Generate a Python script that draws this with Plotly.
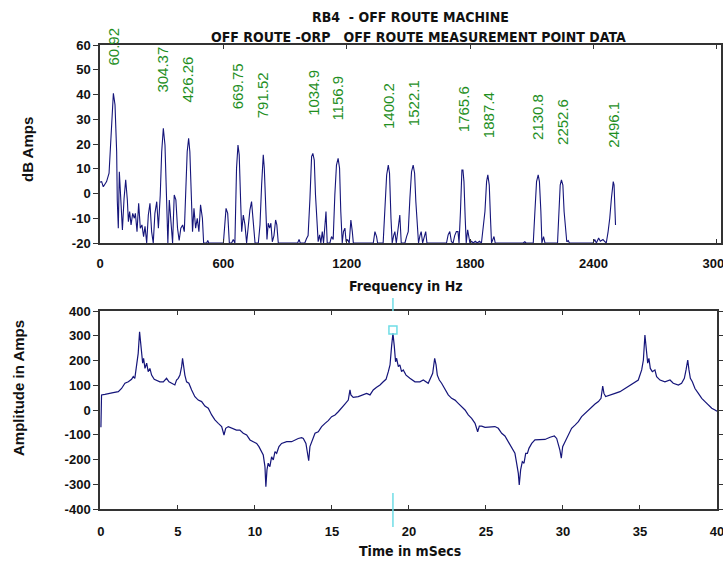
import plotly.graph_objects as go

# ---------------- data ----------------
spec_freq = [0, 8, 16, 32, 44, 53, 65, 73, 81, 84, 89, 94, 100, 109, 117, 125, 133, 138, 144, 151,
             159, 167, 172, 180, 188, 196, 204, 212, 219, 227, 235, 243, 251, 259, 267, 276, 284, 293,
             300, 308, 316, 323, 330, 337, 345, 353, 361, 369, 377, 385, 393, 402, 410, 416, 424, 431,
             437, 444, 450, 457, 465, 473, 481, 489, 498, 504, 519, 524, 529, 600, 605, 613, 621, 629,
             640, 648, 656, 664, 671, 677, 684, 689, 697, 705, 713, 721, 729, 737, 746, 754, 770, 778,
             786, 794, 799, 805, 812, 818, 825, 831, 838, 846, 854, 860, 867, 961, 968, 974, 996, 1004,
             1012, 1021, 1029, 1035, 1042, 1048, 1055, 1061, 1068, 1074, 1081, 1087, 1094, 1099, 1105,
             1118, 1126, 1134, 1142, 1150, 1158, 1165, 1171, 1178, 1184, 1191, 1197, 1204, 1212, 1220,
             1227, 1232, 1329, 1337, 1345, 1350, 1377, 1386, 1394, 1402, 1408, 1415, 1421, 1428, 1434,
             1441, 1447, 1454, 1458, 1465, 1483, 1491, 1499, 1507, 1515, 1523, 1530, 1536, 1543, 1549,
             1556, 1562, 1569, 1577, 1584, 1590, 1685, 1693, 1701, 1709, 1717, 1725, 1733, 1741, 1746,
             1753, 1760, 1765, 1770, 1776, 1781, 1788, 1793, 1799, 1807, 1815, 1825, 1835, 1845, 1855,
             1872, 1880, 1886, 1893, 1899, 1904, 1916, 1922, 2058, 2066, 2072, 2107, 2115, 2123, 2131,
             2137, 2144, 2149, 2157, 2164, 2225, 2231, 2238, 2244, 2251, 2257, 2264, 2270, 2277, 2283,
             2398, 2406, 2414, 2425, 2433, 2446, 2454, 2462, 2471, 2479, 2487, 2496, 2500, 2507]
spec_db = [4.6, 4.8, 2.7, 4.8, 8.2, 21, 40.5, 35.8, 16.9, -2.6, -14, 8.8, -2.6, -14.7, -2, 5.5, -2.6, -11.4, -7.3, -12.7,
           -8, -10, -8, -15.4, -4, -14, -12.7, -17.4, -13.3, -20, -8.7, -4, -15.4, -20, -8, -3.3, -14, -0.6,
           16.9, 26.3, 19.6, -0.6, -20, -2.6, -12.7, -20, -0.6, -2.6, -14, -19, -14, -12.7, -15.4, -0.6, 16.9, 22.3,
           16.9, -0.6, -15.4, -6, -14, -10, -15.4, -4.6, -10, -20, -20, -19, -20, -20, -15.4, -6, -8, -20,
           -20, -18.6, -20, 10.2, 19.6, 15.6, -3.3, -15.4, -8.7, -12.7, -20, -12.7, -6.7, -3.3, -11.4, -20, -20, -12.7,
           3.4, 15.6, 10.2, -7.3, -18.6, -12, -14, -12, -19.5, -17, -10.7, -12.7, -20, -20, -18.6, -20, -20, -18.3,
           -17, -2, 14.9, 16.2, 13.5, -0.6, -12.7, -19.5, -16.7, -20, -15.4, -20, -12.7, -7.3, -20,
           -20, -17.4, -18.6, -0.6, 11.5, 14.2, 10.2, -7.3, -20, -15.4, -14, -19.5, -18.6, -20, -10.7,
           -15.4, -20, -20, -15.4, -17.4, -20, -20, -7.3, 7.5, 11.5, 8.2, -10, -20, -17, -15.4,
           -20, -15.4, -11.4, -8.7, -20, -20, -17.4, -15.4, -2, 8.8, 11.5, 8.2, -3.3, -15.4, -20,
           -17, -15.4, -20, -17.4, -15.4, -20, -20, -16.7, -15.4, -19.5, -20, -17, -15.4, -15.4, -20,
           -7.3, 9.5, 9.5, 4.8, -10, -20, -14.7, -17.4, -20, -19.3, -20, -19.3, -20, -19.3, -20,
           -7.3, 4.8, 7.5, 3.4, -10, -20, -17.4, -20, -20, -19.5, -20, -20, -7.3, 4.8, 7.5,
           4.8, -7.3, -20, -17.4, -20, -20, -10, 3.4, 5.5, 3.4, -7.3, -15.4, -19.5, -19, -20,
           -20, -18.6, -20, -18, -19.3, -18.6, -19.3, -20, -15.4, -10, -2, 4.8, 3.4, -12.7]

peak_labels = ["60.92", "304.37", "426.26", "669.75", "791.52", "1034.9", "1156.9",
               "1400.2", "1522.1", "1765.6", "1887.4", "2130.8", "2252.6", "2496.1"]
peak_freq = [60.92, 304.37, 426.26, 669.75, 791.52, 1034.9, 1156.9,
             1400.2, 1522.1, 1765.6, 1887.4, 2130.8, 2252.6, 2496.1]
label_db = [50.7, 39.8, 35.8, 33.1, 29.5, 30.5, 28.8, 25.2, 26.4, 24.0, 21.6, 20.9, 18.9, 17.8]

time_ms = [0, 0.04, 0.26, 0.48, 0.8, 1.13, 1.34, 1.56, 1.78, 1.99, 2.1, 2.2, 2.32, 2.42, 2.51, 2.58, 2.64, 2.71,
           2.77, 2.86, 2.97, 3.07, 3.18, 3.29, 3.46, 3.61, 3.83, 4.05, 4.26, 4.42, 4.63, 4.8, 4.91, 5.02,
           5.13, 5.24, 5.3, 5.37, 5.45, 5.56, 5.71, 5.89, 6.1, 6.32, 6.54, 6.75, 6.97, 7.19, 7.4, 7.62,
           7.84, 7.99, 8.1, 8.27, 8.59, 8.8, 9.02, 9.24, 9.46, 9.68, 9.89, 10.11, 10.26, 10.43, 10.54,
           10.65, 10.71, 10.78, 10.86, 10.97, 11.08, 11.19, 11.3, 11.41, 11.56, 11.73, 12.06, 12.38,
           12.6, 12.81, 13.03, 13.14, 13.31, 13.4, 13.49, 13.57, 13.68, 13.79, 13.9, 14.11, 14.33,
           14.55, 14.76, 14.98, 15.2, 15.41, 15.63, 15.84, 16.06, 16.17, 16.23, 16.38, 16.71, 17.03,
           17.25, 17.47, 17.68, 17.9, 18.12, 18.33, 18.51, 18.66, 18.77, 18.87, 18.96, 19.05, 19.13,
           19.2, 19.31, 19.41, 19.52, 19.63, 19.81, 20.06, 20.39, 20.71, 20.93, 21.25, 21.4, 21.54,
           21.67, 21.76, 21.84, 21.97, 22.12, 22.34, 22.55, 22.77, 22.99, 23.2, 23.42, 23.64, 23.85,
           24.07, 24.29, 24.46, 24.57, 24.72, 24.94, 25.26, 25.58, 25.8, 26.02, 26.23, 26.45, 26.67,
           26.88, 26.99, 27.1, 27.16, 27.25, 27.36, 27.47, 27.58, 27.69, 27.79, 27.97, 28.18, 28.51,
           28.83, 29.16, 29.44, 29.59, 29.7, 29.8, 29.89, 29.98, 30.08, 30.19, 30.34, 30.56, 30.78,
           31.0, 31.21, 31.43, 31.65, 31.86, 32.08, 32.3, 32.47, 32.58, 32.66, 32.77, 33.05, 33.38,
           33.7, 34.03, 34.35, 34.68, 34.89, 35.11, 35.22, 35.32, 35.41, 35.5, 35.58, 35.67, 35.8,
           35.97, 36.08, 36.3, 36.62, 36.95, 37.16, 37.49, 37.7, 37.88, 37.99, 38.1, 38.18, 38.27,
           38.4, 38.57, 38.79, 39.01, 39.22, 39.44, 39.66, 39.87, 40.0]
amp = [-70, 61, 63, 67, 70, 74, 87, 108, 114, 124, 135, 128, 175, 229, 316, 269, 222, 189,
       209, 168, 189, 155, 168, 141, 124, 121, 114, 114, 128, 114, 108, 101, 121, 128,
       141, 175, 209, 175, 141, 114, 108, 81, 54, 40, 34, 16, 7, -20, -40, -54,
       -67, -101, -74, -67, -74, -81, -81, -94, -101, -121, -128, -135, -148, -168, -182,
       -229, -310, -242, -215, -229, -189, -202, -168, -175, -148, -135, -128, -128,
       -121, -115, -112, -115, -135, -168, -205, -148, -128, -115, -94, -88, -67,
       -54, -43, -27, -20, -7, 7, 24, 40, 81, 61, 51, 54, 61,
       67, 61, 81, 92, 101, 114, 124, 155, 182, 256, 310, 256, 195,
       209, 175, 182, 155, 162, 141, 128, 114, 114, 121, 108, 128, 148,
       209, 182, 141, 121, 108, 81, 61, 47, 40, 27, 13, 0, -20,
       -34, -54, -88, -65, -65, -70, -67, -67, -74, -94, -105, -128, -148,
       -175, -215, -256, -303, -242, -209, -215, -175, -175, -155, -135, -121, -121,
       -119, -110, -105, -115, -135, -162, -195, -148, -135, -121, -101, -74, -61,
       -47, -27, -13, 0, 13, 24, 34, 47, 97, 67, 54, 61, 67,
       74, 87, 101, 114, 121, 162, 202, 303, 242, 189, 209, 168, 155,
       162, 135, 121, 114, 121, 108, 101, 108, 128, 162, 202, 162, 128,
       114, 87, 67, 47, 34, 20, 7, 0, -5]

cursor_t = [18.96]
cursor_amp = [323]

freq_ticks = [0, 600, 1200, 1800, 2400, 3000]
db_ticks = [-20, -10, 0, 10, 20, 30, 40, 50, 60]
time_ticks = [0, 5, 10, 15, 20, 25, 30, 35, 40]
amp_ticks = [-400, -300, -200, -100, 0, 100, 200, 300, 400]

# ---------------- styling ----------------
W, H = 723, 561
def px(x):
    return x / W
def py(y):
    return 1 - y / H

def lbl(v):
    return str(v)  # plain hyphen minus, as in the original

NARROW = "DejaVu Sans Condensed, Liberation Sans Narrow, Arial Narrow, Liberation Sans, sans-serif"
ARIAL = "Liberation Sans, Arial, sans-serif"
LINE = "#15157a"
AXC = "#333333"
GREEN = "#1f8f1f"
CYAN = "#6fdde6"

fig = go.Figure()
fig.add_trace(go.Scatter(x=spec_freq, y=spec_db, mode="lines",
                         line=dict(color=LINE, width=1.1), xaxis="x", yaxis="y",
                         showlegend=False, hoverinfo="skip"))
fig.add_trace(go.Scatter(x=time_ms, y=amp, mode="lines",
                         line=dict(color=LINE, width=1.2), xaxis="x2", yaxis="y2",
                         showlegend=False, hoverinfo="skip"))
fig.add_trace(go.Scatter(x=cursor_t, y=cursor_amp, mode="markers",
                         marker=dict(symbol="square-open", size=8, color=CYAN,
                                     line=dict(color=CYAN, width=1.5)),
                         xaxis="x2", yaxis="y2", showlegend=False, hoverinfo="skip"))

tickfont = dict(family=ARIAL, size=13, color="#111", weight="bold")
axis_common = dict(showline=True, linecolor=AXC, linewidth=1.5, showgrid=False,
                   zeroline=False, tickcolor=AXC, tickfont=tickfont, mirror="ticks",
                   automargin=False, ticklabeloverflow="allow")

fig.update_layout(
    width=W, height=H, autosize=False,
    margin=dict(l=0, r=0, t=0, b=0, pad=0, autoexpand=False),
    paper_bgcolor="white", plot_bgcolor="white",
    xaxis=dict(domain=[px(100), px(721)], range=[0, 3020], tickvals=freq_ticks,
               ticktext=[lbl(v) for v in freq_ticks],
               ticks="inside", ticklen=4, anchor="y", ticklabelstandoff=8, **axis_common),
    yaxis=dict(domain=[py(243), py(45)], range=[-20, 60], tickvals=db_ticks,
               ticktext=[lbl(v) for v in db_ticks],
               ticks="outside", ticklen=5, anchor="x", **axis_common),
    xaxis2=dict(domain=[px(100), px(717)], range=[-0.06, 40], tickvals=time_ticks,
                ticktext=[lbl(v) for v in time_ticks],
                ticks="inside", ticklen=4, anchor="y2", ticklabelstandoff=10, **axis_common),
    yaxis2=dict(domain=[py(509), py(311)], range=[-400, 400], tickvals=amp_ticks,
                ticktext=[lbl(v) for v in amp_ticks],
                ticks="outside", ticklen=5, anchor="x2", **axis_common),
)

# cursor line segments
fig.add_shape(type="line", xref="x2", yref="paper", x0=cursor_t[0], x1=cursor_t[0],
              y0=py(311), y1=py(298), line=dict(color=CYAN, width=1.5))
fig.add_shape(type="line", xref="x2", yref="paper", x0=cursor_t[0], x1=cursor_t[0],
              y0=py(527), y1=py(493), line=dict(color=CYAN, width=1.5))

# peak labels
for lab, f, yv in zip(peak_labels, peak_freq, label_db):
    fig.add_annotation(x=f, y=yv, xref="x", yref="y", text=lab, showarrow=False,
                       textangle=-90, xanchor="center", yanchor="bottom",
                       font=dict(family=ARIAL, size=15, color=GREEN))

titlefont = dict(family=NARROW, size=14, color="#111", weight="bold")
fig.add_annotation(x=px(410), y=py(17), xref="paper", yref="paper", showarrow=False,
                   text="RB4  - OFF ROUTE MACHINE", font=titlefont, xanchor="center", yanchor="middle")
fig.add_annotation(x=px(418), y=py(37), xref="paper", yref="paper", showarrow=False,
                   text="OFF ROUTE -ORP   OFF ROUTE MEASUREMENT POINT DATA", font=titlefont,
                   xanchor="center", yanchor="middle")
fig.add_annotation(x=px(406), y=py(286), xref="paper", yref="paper", showarrow=False,
                   text="Frequency in Hz", font=titlefont, xanchor="center", yanchor="middle")
fig.add_annotation(x=px(410), y=py(551), xref="paper", yref="paper", showarrow=False,
                   text="Time in mSecs", font=titlefont, xanchor="center", yanchor="middle")
ytitlefont = dict(family=ARIAL, size=15, color="#111", weight="bold")
fig.add_annotation(x=px(28), y=py(150), xref="paper", yref="paper", showarrow=False,
                   text="dB Amps", textangle=-90, font=ytitlefont, xanchor="center", yanchor="middle")
fig.add_annotation(x=px(18), y=py(388), xref="paper", yref="paper", showarrow=False,
                   text="Amplitude in Amps", textangle=-90, font=ytitlefont,
                   xanchor="center", yanchor="middle")

fig.write_html("out.html")
